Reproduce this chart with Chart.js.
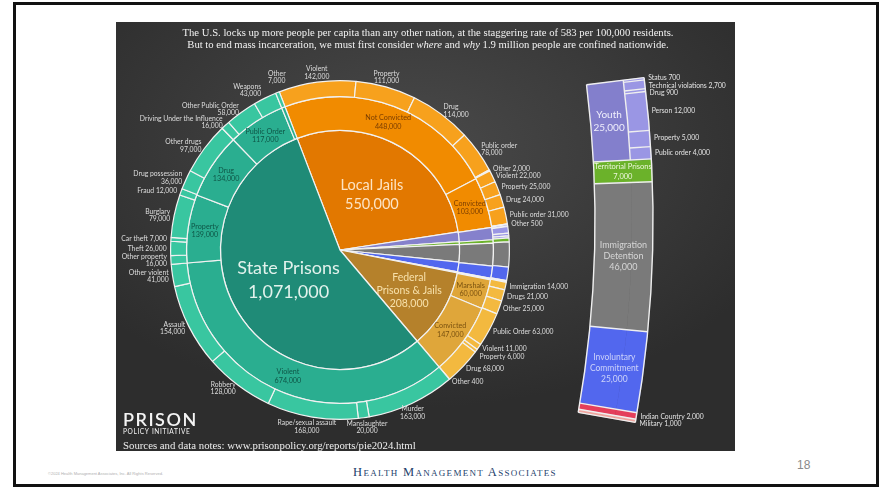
<!DOCTYPE html>
<html>
<head>
<meta charset="utf-8">
<script src="https://cdn.jsdelivr.net/npm/chart.js@4.4.1/dist/chart.umd.min.js"></script>
<style>
  html, body { margin:0; padding:0; width:880px; height:488px; background:#fff; overflow:hidden; }
  #frame { position:absolute; left:13px; top:2px; width:866px; height:485px; box-sizing:border-box; border:3px solid #111; }
  #panel { position:absolute; left:116px; top:22px; width:619px; height:429px;
           background: radial-gradient(ellipse 65% 60% at 48% 30%, #4a4a4a 0%, #3a3a3a 55%, #2d2d2d 100%); }
  #pieBox { position:absolute; left:116px; top:22px; width:619px; height:429px; }
  #stripBox { position:absolute; left:560px; top:22px; width:175px; height:429px; }
  #hma { position:absolute; left:340px; top:465px; width:230px; text-align:center; font-family:'Liberation Serif',serif;
         font-variant:small-caps; font-size:12.5px; letter-spacing:1.3px; color:#23416b; }
  #pageNo { position:absolute; left:797px; top:458px; font-family:'Liberation Sans Narrow','Liberation Sans',sans-serif; font-size:12px; color:#8a8a8a; }
  #copy { position:absolute; left:48px; top:471px; font-family:'Liberation Sans',sans-serif; font-size:4px; color:#b0b0b0; white-space:nowrap; }
</style>
</head>
<body>
<div id="frame"></div>
<div id="panel"></div>
<div id="pieBox"><canvas id="pie"></canvas></div>
<div id="stripBox"><canvas id="strip"></canvas></div>
<div id="copy">©2024 Health Management Associates, Inc. All Rights Reserved.</div>
<div id="hma">Health Management Associates</div>
<div id="pageNo">18</div>
<script>
// Whole pie 2024: where 1.9 million people are confined (nested doughnut + exploded strip)

// inner pie: systems of confinement, clockwise from the State/Local boundary
const groupNames = ['Local Jails', 'Youth', 'Territorial Prisons', 'Immigration Detention',
  'Involuntary Commitment', 'Indian Country', 'Military', 'Federal Prisons & Jails', 'State Prisons'];
const groupValues = [550000, 25000, 7000, 46000, 25000, 2000, 1000, 208000, 1071000];

// middle ring
const jailNames = ['Not Convicted', 'Convicted'];
const jailValues = [448000, 103000];
const fedNames = ['Marshals', 'Convicted'];
const fedValues = [60000, 147000];
const stateNames = ['Violent', 'Property', 'Drug', 'Public Order', 'Other'];
const stateValues = [674000, 139000, 134000, 117000, 7000];

// outer ring: offenses
const notConvictedNames = ['Violent', 'Property', 'Drug', 'Public order', 'Other'];
const notConvictedValues = [142000, 111000, 114000, 78000, 2000];
const convictedNames = ['Violent', 'Property', 'Drug', 'Public order', 'Other'];
const convictedValues = [22000, 25000, 24000, 31000, 500];
const youthNames = ['Status', 'Technical violations', 'Drug', 'Person', 'Property', 'Public order'];
const youthValues = [700, 2700, 900, 12000, 5000, 4000];
const marshalsNames = ['Immigration', 'Drugs', 'Other'];
const marshalsValues = [14000, 21000, 25000];
const fedConvictedNames = ['Public Order', 'Violent', 'Property', 'Drug', 'Other'];
const fedConvictedValues = [63000, 11000, 6000, 68000, 400];
const violentNames = ['Murder', 'Manslaughter', 'Rape/sexual assault', 'Robbery', 'Assault', 'Other violent'];
const violentValues = [163000, 20000, 168000, 128000, 154000, 41000];
const propertyNames = ['Other property', 'Theft', 'Car theft', 'Burglary', 'Fraud'];
const propertyValues = [16000, 26000, 7000, 79000, 12000];
const drugNames = ['Drug possession', 'Other drugs'];
const drugValues = [36000, 97000];
const publicOrderNames = ['Driving Under the Influence', 'Other Public Order', 'Weapons'];
const publicOrderValues = [16000, 58000, 43000];
const stateOtherNames = ['Other'];
const stateOtherValues = [7000];

// colours per group (inner, middle, outer ring)
const innerColors = ['#e27800', '#8581cc', '#6bb22a', '#7a7a7a', '#5267ee', '#e43f5b', '#eea59e', '#b5812b', '#1f8b77'];
const midColors   = ['#f18b00', '#8581cc', '#6bb22a', '#7a7a7a', '#5267ee', '#e43f5b', '#eea59e', '#dfa63a', '#2aae90'];
const outerColors = ['#f7a11d', '#9a96e4', '#6bb22a', '#7a7a7a', '#5267ee', '#e43f5b', '#eea59e', '#f3b93f', '#39c6a0'];
const midTextColors = {0: '#7a3d00', 7: '#7a5210', 8: '#0e5546'};

const fmt = v => v.toLocaleString('en-US');

// build the middle ring
const midNames = [], midValues = [], midGroup = [];
function addMid(names, values, g) {
  names.forEach((n, i) => { midNames.push(n); midValues.push(values[i]); midGroup.push(g); });
}
addMid(jailNames, jailValues, 0);
for (let g = 1; g <= 6; g++) addMid([groupNames[g]], [groupValues[g]], g);
addMid(fedNames, fedValues, 7);
addMid(stateNames, stateValues, 8);

// build the outer ring
const outer = [];
function addOuter(names, values, g, compact) {
  names.forEach((n, i) => outer.push({name: n, value: values[i], group: g, compact}));
}
addOuter(notConvictedNames, notConvictedValues, 0, false);
addOuter(convictedNames, convictedValues, 0, true);
addOuter(youthNames, youthValues, 1, true);
for (let g = 2; g <= 6; g++) addOuter([groupNames[g]], [groupValues[g]], g, true);
addOuter(marshalsNames, marshalsValues, 7, true);
addOuter(fedConvictedNames, fedConvictedValues, 7, true);
addOuter(violentNames, violentValues, 8, false);
addOuter(propertyNames, propertyValues, 8, false);
addOuter(drugNames, drugValues, 8, false);
addOuter(publicOrderNames, publicOrderValues, 8, false);
addOuter(stateOtherNames, stateOtherValues, 8, false);

const labelGroups = [0, 7, 8];
const oneLineText = ['Other 2,000', 'Theft 26,000', 'Car theft 7,000', 'Fraud 12,000'];
// small hand nudges (px) for crowded labels
const labelNudge = {
  'Rape/sexual assault 168,000': [-5, 0],
  'Manslaughter 20,000': [3, 0],
  'Other 7,000': [0, -6],
  'Weapons 43,000': [-2, -4]
};

function drawLines(ctx, lines, x, y, align, vAlign, lh) {
  ctx.textAlign = align;
  ctx.textBaseline = 'middle';
  const n = lines.length;
  let y0;
  if (vAlign === 'above') y0 = y - lh * (n - 0.5);
  else if (vAlign === 'below') y0 = y + lh * 0.5;
  else y0 = y - lh * (n - 1) / 2;
  lines.forEach((t, k) => ctx.fillText(t, x, y0 + k * lh));
}

// push labels apart (top to bottom) so they do not overlap
function spread(list, gap) {
  list.sort((a, b) => a.y - b.y);
  for (let k = 1; k < list.length; k++) {
    if (list[k].y - list[k - 1].y < gap) list[k].y = list[k - 1].y + gap;
  }
}

function fitSize(ctx, text, family, width) {
  ctx.font = '10px ' + family;
  return 10 * width / ctx.measureText(text).width;
}

const pieText = {
  id: 'pieText',
  afterDatasetsDraw(chart) {
    const ctx = chart.ctx;
    ctx.save();

    // title
    const serif = '"Liberation Serif", "DejaVu Serif", serif';
    const t1 = 'The U.S. locks up more people per capita than any other nation, at the staggering rate of 583 per 100,000 residents.';
    const size = fitSize(ctx, t1, serif, 492);
    ctx.fillStyle = '#f2f2f2';
    ctx.font = size + 'px ' + serif;
    drawLines(ctx, [t1], 312, 11, 'center', 'middle', 12);
    const parts = [['But to end mass incarceration, we must first consider ', ''], ['where', 'italic '],
      [' and ', ''], ['why', 'italic '], [' 1.9 million people are confined nationwide.', '']];
    let total = 0;
    parts.forEach(p => { ctx.font = p[1] + size + 'px ' + serif; p.push(ctx.measureText(p[0]).width); total += p[2]; });
    let x = 312 - total / 2;
    ctx.textAlign = 'left';
    parts.forEach(p => { ctx.font = p[1] + size + 'px ' + serif; ctx.fillText(p[0], x, 23); x += p[2]; });

    // outer ring labels
    ctx.font = '6.8px Lato';
    ctx.fillStyle = '#dedede';
    const pending = [];
    chart.getDatasetMeta(0).data.forEach((arc, i) => {
      const o = outer[i];
      if (!labelGroups.includes(o.group)) return;
      const a = (arc.startAngle + arc.endAngle) / 2;
      const c = Math.cos(a), s = Math.sin(a);
      const text = o.name + ' ' + fmt(o.value);
      const [nx, ny] = labelNudge[text] || [0, 0];
      if (o.compact || oneLineText.includes(text)) {
        const r = arc.outerRadius + 4;
        pending.push({text, x: arc.x + r * c + nx, y: arc.y + r * s + ny, align: c >= 0 ? 'left' : 'right'});
      } else if (Math.abs(c) > 0.43) {
        const r = arc.outerRadius + 4;
        drawLines(ctx, [o.name, fmt(o.value)], arc.x + r * c + nx, arc.y + r * s + ny, c > 0 ? 'left' : 'right', 'middle', 7.5);
      } else {
        const r = arc.outerRadius + 2;
        drawLines(ctx, [o.name, fmt(o.value)], arc.x + r * c + nx, arc.y + r * s + ny, 'center', s < 0 ? 'above' : 'below', 7.5);
      }
    });
    spread(pending.filter(l => l.align === 'left'), 7.5);
    pending.forEach(l => drawLines(ctx, [l.text], l.x, l.y, l.align, 'middle', 7.5));

    // middle ring labels
    ctx.font = '7.2px Lato';
    chart.getDatasetMeta(1).data.forEach((arc, i) => {
      const g = midGroup[i];
      if (!labelGroups.includes(g) || arc.endAngle - arc.startAngle < 0.1) return;
      const a = (arc.startAngle + arc.endAngle) / 2;
      const r = (arc.innerRadius + arc.outerRadius) / 2;
      ctx.fillStyle = midTextColors[g];
      drawLines(ctx, [midNames[i], fmt(midValues[i])], arc.x + r * Math.cos(a), arc.y + r * Math.sin(a), 'center', 'middle', 8.5);
    });

    // inner pie labels
    const innerStyle = {
      0: {ratio: 0.53, size: 14.5, lh: 19, color: '#fde4c4'},
      7: {ratio: 0.67, size: 10.5, lh: 13, color: '#f7e0aa', wrap: true},
      8: {ratio: 0.5, size: 18, lh: 24, color: '#e2f2ec'}
    };
    chart.getDatasetMeta(2).data.forEach((arc, i) => {
      const st = innerStyle[i];
      if (!st) return;
      const a = (arc.startAngle + arc.endAngle) / 2;
      const r = arc.outerRadius * st.ratio;
      const name = groupNames[i];
      const lines = st.wrap ? name.replace(/^(\S+) /, '$1\n').split('\n') : [name];
      lines.push(fmt(groupValues[i]));
      ctx.font = st.size + 'px Lato';
      ctx.fillStyle = st.color;
      drawLines(ctx, lines, arc.x + r * Math.cos(a), arc.y + r * Math.sin(a), 'center', 'middle', st.lh);
    });

    // logo and source
    ctx.fillStyle = '#f4f4f4';
    ctx.letterSpacing = '1.5px';
    ctx.font = '600 18px Lato';
    drawLines(ctx, ['PRISON'], 7, 398, 'left', 'middle', 10);
    ctx.letterSpacing = '0.6px';
    ctx.font = '6.6px Lato';
    drawLines(ctx, ['POLICY INITIATIVE'], 7, 410, 'left', 'middle', 10);
    ctx.letterSpacing = '0px';
    const src = 'Sources and data notes: www.prisonpolicy.org/reports/pie2024.html';
    ctx.font = fitSize(ctx, src, serif, 293) + 'px ' + serif;
    ctx.fillStyle = '#eeeeee';
    drawLines(ctx, [src], 7, 424, 'left', 'middle', 10);
    ctx.restore();
  }
};

new Chart(document.getElementById('pie'), {
  type: 'doughnut',
  data: {
    labels: outer.map(o => o.name),
    datasets: [
      {data: outer.map(o => o.value), backgroundColor: outer.map(o => outerColors[o.group]), weight: 16},
      {data: midValues, backgroundColor: midGroup.map(g => midColors[g]), weight: 34},
      {data: groupValues, backgroundColor: innerColors, weight: 120}
    ]
  },
  options: {
    responsive: true,
    maintainAspectRatio: false,
    animation: false,
    cutout: 0,
    rotation: -21,
    layout: {padding: {left: 54, top: 58, right: 225, bottom: 31}},
    elements: {arc: {borderColor: '#f2f2f2', borderWidth: 1.2}},
    plugins: {legend: {display: false}, tooltip: {enabled: false}}
  },
  plugins: [pieText]
});

// exploded strip of the small systems, drawn as a thin wedge of a very large ring
const stripOuterNames = [...youthNames, ...groupNames.slice(2, 7)];
const stripOuterValues = [...youthValues, ...groupValues.slice(2, 7)];
const stripInnerNames = groupNames.slice(1, 7);
const stripInnerValues = groupValues.slice(1, 7);
const stripOuterColors = [...youthNames.map(() => '#9a96e4'), ...innerColors.slice(2, 7)];
const stripInnerColors = ['#837fcc', ...innerColors.slice(2, 7)];
const stripRightLabels = [0, 1, 2, 3, 4, 5, 9, 10];

const stripText = {
  id: 'stripText',
  afterDatasetsDraw(chart) {
    const ctx = chart.ctx;
    const outerArcs = chart.getDatasetMeta(0).data;
    const innerArcs = chart.getDatasetMeta(1).data;
    const first = innerArcs[0], last = innerArcs[innerArcs.length - 1];
    const cx = first.x, cy = first.y;
    const rIn = first.innerRadius, rMid = first.outerRadius, rOut = outerArcs[0].outerRadius;
    const ray = (ang, r0, r1) => {
      ctx.moveTo(cx + r0 * Math.cos(ang), cy + r0 * Math.sin(ang));
      ctx.lineTo(cx + r1 * Math.cos(ang), cy + r1 * Math.sin(ang));
    };
    ctx.save();
    ctx.strokeStyle = '#efefef';
    ctx.lineWidth = 1.4;
    ctx.beginPath();
    innerArcs.forEach(a => ray(a.startAngle, rIn, rOut));
    ray(last.endAngle, rIn, rOut);
    outerArcs.slice(1, youthNames.length).forEach(a => ray(a.startAngle, rMid, rOut));
    ctx.stroke();
    ctx.beginPath();
    ctx.arc(cx, cy, rIn, first.startAngle, last.endAngle);
    ctx.stroke();
    ctx.beginPath();
    ctx.arc(cx, cy, rOut, first.startAngle, last.endAngle);
    ctx.stroke();
    ctx.beginPath();
    ctx.arc(cx, cy, rMid, first.startAngle, first.endAngle);
    ctx.stroke();

    // labels inside the strip
    const inside = {
      0: {size: 10, lh: 13, color: '#efeefc', split: true, r: (rIn + rMid) / 2},
      1: {size: 7.5, lh: 10, color: '#eef7dc', split: false, r: (rIn + rOut) / 2},
      2: {size: 9, lh: 11, color: '#d6d6d6', split: true, r: (rIn + rOut) / 2},
      3: {size: 8.5, lh: 11, color: '#cdd3fa', split: true, r: (rIn + rOut) / 2}
    };
    innerArcs.forEach((arc, i) => {
      const st = inside[i];
      if (!st) return;
      const a = (arc.startAngle + arc.endAngle) / 2;
      const lines = st.split ? stripInnerNames[i].split(' ') : [stripInnerNames[i]];
      lines.push(fmt(stripInnerValues[i]));
      ctx.font = st.size + 'px Lato';
      ctx.fillStyle = st.color;
      drawLines(ctx, lines, cx + st.r * Math.cos(a), cy + st.r * Math.sin(a), 'center', 'middle', st.lh);
    });

    // labels to the right of the strip
    ctx.font = '6.8px Lato';
    ctx.fillStyle = '#e4e4e4';
    const list = stripRightLabels.map(i => {
      const arc = outerArcs[i];
      const a = (arc.startAngle + arc.endAngle) / 2;
      const r = arc.outerRadius + 4;
      return {text: stripOuterNames[i] + ' ' + fmt(stripOuterValues[i]), x: cx + r * Math.cos(a), y: cy + r * Math.sin(a)};
    });
    spread(list, 7.2);
    list.forEach(l => drawLines(ctx, [l.text], l.x, l.y, 'left', 'middle', 7));
    ctx.restore();
  }
};

new Chart(document.getElementById('strip'), {
  type: 'doughnut',
  data: {
    labels: stripOuterNames,
    datasets: [
      {data: stripOuterValues, backgroundColor: stripOuterColors, borderColor: stripOuterColors, weight: 21},
      {data: stripInnerValues, backgroundColor: stripInnerColors, borderColor: stripInnerColors, weight: 37}
    ]
  },
  options: {
    responsive: true,
    maintainAspectRatio: false,
    animation: false,
    rotation: 82.9,
    circumference: 17.1,
    cutout: '95%',
    radius: 1160,
    layout: {padding: {left: 10, top: 40, right: 73.8, bottom: 13}},
    elements: {arc: {borderWidth: 0.6}},
    plugins: {legend: {display: false}, tooltip: {enabled: false}}
  },
  plugins: [stripText]
});
</script>
</body>
</html>
